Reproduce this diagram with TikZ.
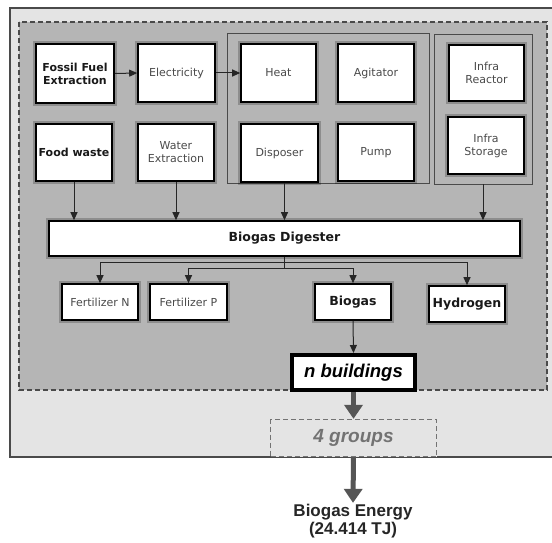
\documentclass[tikz,border=0pt]{standalone}
\usepackage{fontspec}
\setmainfont{DejaVu Sans}
\newfontfamily\arialfont{Liberation Sans}
\usetikzlibrary{arrows.meta}

\definecolor{panelLight}{HTML}{E4E4E4}
\definecolor{panelDark}{HTML}{B5B5B5}
\definecolor{edgeGray}{HTML}{4A4A4A}
\definecolor{labelGray}{HTML}{4A4A4A}
\definecolor{flowGray}{HTML}{555555}

\begin{document}
\begin{tikzpicture}[x=1pt,y=-1pt,
  box/.style={draw=black, line width=1.6pt, fill=white, align=center,
    inner sep=1pt, text=labelGray, font=\fontsize{11}{13}\selectfont,
    preaction={draw=black, line width=5.5pt, opacity=0.22}},
  boldbox/.style={box, text=black!90, font=\bfseries\fontsize{11}{13}\selectfont},
  bigbold/.style={box, text=black!90, font=\bfseries\fontsize{12.5}{14}\selectfont},
  groupbox/.style={draw=edgeGray, line width=0.8pt, inner sep=0pt},
  arr/.style={draw=black!85, line width=1pt, -{Triangle[length=8pt,width=7pt]}},
  flow/.style={draw=flowGray, line width=5pt, -{Triangle[length=14pt,width=18pt]}},
]
\useasboundingbox (0,0) rectangle (552,543);
\clip (0,0) rectangle (552,543);

% background panels
\fill[white] (0,0) rectangle (552,543);
\draw[draw=edgeGray, line width=1.3pt, fill=panelLight] (10,8) rectangle (580,457);
\draw[draw=edgeGray, line width=1.8pt, dash pattern=on 5pt off 3pt, fill=panelDark] (19,22) rectangle (547,390);

% equipment groups
\node[groupbox, minimum width=202pt, minimum height=150pt] (grp1) at (328,108) {};
\node[groupbox, minimum width=98pt, minimum height=150pt] (grp2) at (483,109) {};

% input boxes
\node[boldbox, minimum width=78pt, minimum height=59pt] (fossil) at (75,73.5) {Fossil Fuel\\Extraction};
\node[box, minimum width=77pt, minimum height=58pt] (elec) at (176.5,73) {Electricity};
\node[box, minimum width=75pt, minimum height=58pt] (heat) at (278.5,73) {Heat};
\node[box, minimum width=76pt, minimum height=58pt] (agit) at (376,73) {Agitator};
\node[box, minimum width=75pt, minimum height=56pt] (ireact) at (486.5,73) {Infra\\Reactor};
\node[boldbox, minimum width=76pt, minimum height=57pt] (food) at (74,152.5) {Food waste};
\node[box, minimum width=76pt, minimum height=57pt] (water) at (176,152.5) {Water\\Extraction};
\node[box, minimum width=77pt, minimum height=58pt] (disp) at (279.5,153) {Disposer};
\node[box, minimum width=76pt, minimum height=57pt] (pump) at (376,152.5) {Pump};
\node[box, minimum width=76pt, minimum height=57pt] (istor) at (486,145.5) {Infra\\Storage};

% digester
\node[bigbold, minimum width=471pt, minimum height=35pt] (dig) at (284.5,238.5) {Biogas Digester};

% products
\node[box, minimum width=76pt, minimum height=36pt] (fertN) at (100,302) {Fertilizer N};
\node[box, minimum width=77pt, minimum height=36pt] (fertP) at (188.5,302) {Fertilizer P};
\node[bigbold, minimum width=76pt, minimum height=36pt] (biogas) at (353,302) {Biogas};
\node[bigbold, minimum width=76pt, minimum height=36pt] (hydro) at (467,304) {Hydrogen};

% buildings and groups
\node[draw=black, line width=4pt, fill=white, minimum width=123pt, minimum height=35pt,
  inner sep=0pt, font=\arialfont\bfseries\itshape\fontsize{18.5}{20}\selectfont] (nb) at (353.5,372.5) {n buildings};
\node[draw=black!55, line width=1.3pt, dash pattern=on 5pt off 3pt, fill=panelLight,
  minimum width=166pt, minimum height=37pt, inner sep=0pt, text=black!55,
  font=\arialfont\bfseries\itshape\fontsize{19}{20}\selectfont] (grp4) at (353.5,438) {4 groups};
\node[align=center, inner sep=1pt, text=black!85,
  font=\arialfont\bfseries\fontsize{17}{18}\selectfont] (energy) at (353,521) {Biogas Energy\\(24.414 TJ)};

% connectors
\draw[arr] (fossil.east) -- (elec.west);
\draw[arr] (elec.east) -- (heat.west);
\draw[arr] (food.south) -- (food.south |- dig.north);
\draw[arr] (water.south) -- (water.south |- dig.north);
\draw[arr] (dig.north |- grp1.south) -- (dig.north);
\draw[arr] (grp2.south) -- (grp2.south |- dig.north);

\draw[arr] (dig.south) -- ([yshift=-6pt]dig.south) -| (fertN.north);
\draw[arr] ([yshift=-6pt]dig.south) -| (hydro.north);
\draw[arr] (dig.south) -- ([yshift=-12pt]dig.south) -| (fertP.north);
\draw[arr] ([yshift=-12pt]dig.south) -| (biogas.north);

\draw[arr] (biogas.south) -- (nb.north);
\draw[flow] (nb.south) -- (grp4.north);
\draw[flow] (grp4.south) -- (energy.north);
\end{tikzpicture}
\end{document}
